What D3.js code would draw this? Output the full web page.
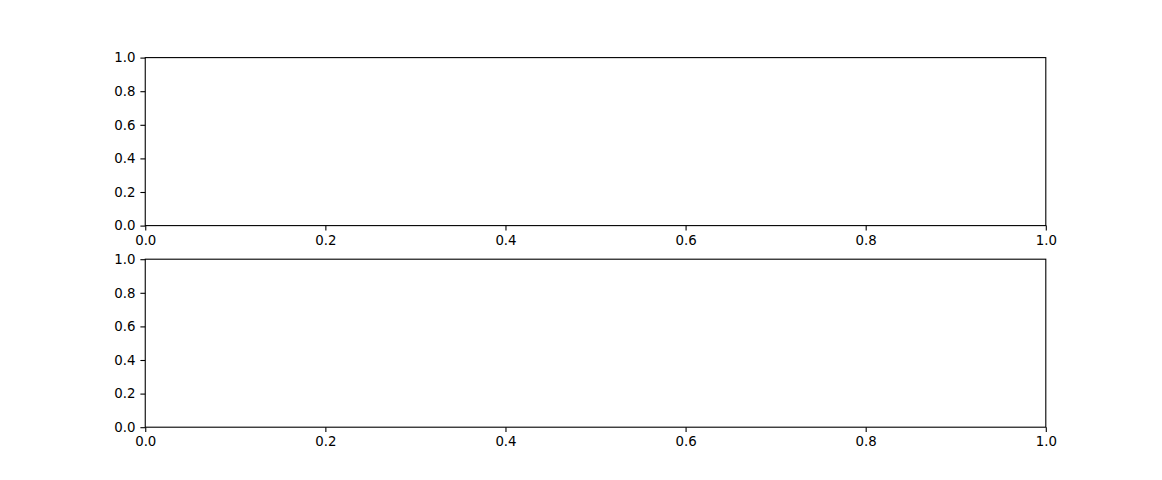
<!DOCTYPE html>
<html>
<head>
<meta charset="utf-8">
<script src="https://cdn.jsdelivr.net/npm/d3@7"></script>
<style>
  html, body { margin: 0; padding: 0; background: #fff; }
  svg { display: block; }
  .tick text { font-family: "DejaVu Sans", sans-serif; font-size: 13.33px; fill: #000; }
</style>
</head>
<body>
<div id="chart"></div>
<script>
const xTicks = [0.0, 0.2, 0.4, 0.6, 0.8, 1.0];
const yTicks = [0.0, 0.2, 0.4, 0.6, 0.8, 1.0];
const xDomain = [0, 1];
const yDomain = [0, 1];

(function () {
  const W = 1162, H = 480;
  const mLeft = 0.125 * W, mRight = 0.9 * W;
  const mTop = (1 - 0.88) * H, mBottom = (1 - 0.11) * H;
  const nRows = 2, hspace = 0.2;
  const axH = (mBottom - mTop) / (nRows + hspace * (nRows - 1));
  const gap = axH * hspace;

  const svg = d3.select("#chart").append("svg").attr("width", W).attr("height", H);

  for (let i = 0; i < nRows; i++) {
    const y0 = mTop + i * (axH + gap);
    const x = d3.scaleLinear().domain(xDomain).range([mLeft, mRight]);
    const y = d3.scaleLinear().domain(yDomain).range([y0 + axH, y0]);
    const g = svg.append("g");
    const fmt = d3.format(".1f");
    const xa = g.append("g").attr("transform", `translate(0,${y0 + axH})`)
      .call(d3.axisBottom(x).tickValues(xTicks).tickFormat(fmt).tickSizeOuter(0).tickSize(4.86).tickPadding(4.86));
    const ya = g.append("g").attr("transform", `translate(${mLeft},0)`)
      .call(d3.axisLeft(y).tickValues(yTicks).tickFormat(fmt).tickSizeOuter(0).tickSize(4.86).tickPadding(4.86));
    [xa, ya].forEach(a => {
      a.select(".domain").remove();
      a.selectAll(".tick line").attr("stroke", "#000").attr("stroke-width", 1.1);
      a.selectAll(".tick text").attr("font-family", "DejaVu Sans").attr("font-size", 13.33);
    });
    g.append("rect").attr("x", mLeft).attr("y", y0).attr("width", mRight - mLeft).attr("height", axH)
      .attr("fill", "none").attr("stroke", "#000").attr("stroke-width", 1.1);
  }
})();
</script>
</body>
</html>
